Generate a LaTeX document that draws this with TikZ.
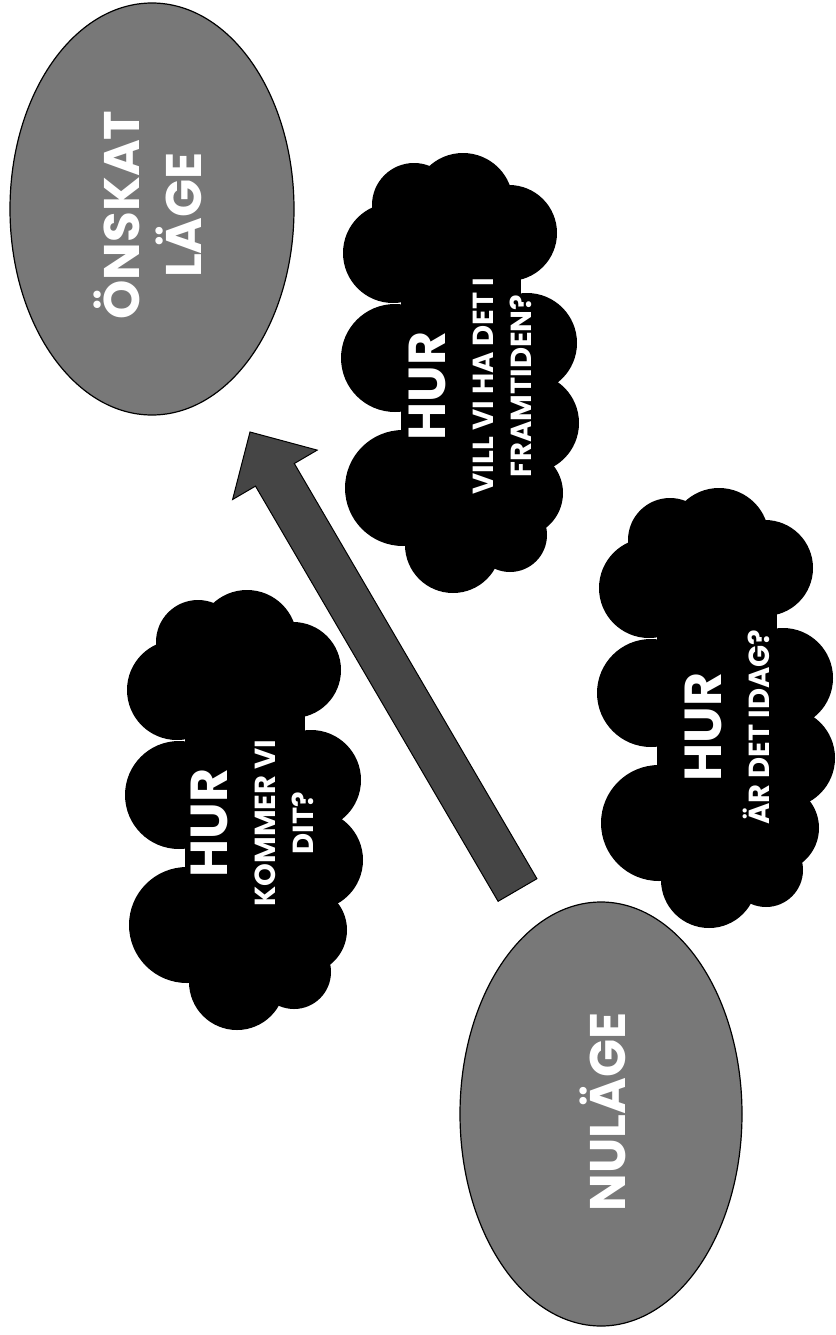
\documentclass[tikz,border=0pt]{standalone}
\usepackage{fontspec}
\setmainfont{Poppins}
\usetikzlibrary{shapes.geometric,calc}
\definecolor{blobgray}{gray}{0.47}
\definecolor{arrowgray}{gray}{0.27}
\tikzset{
  blob/.style={ellipse, draw=black, line width=1.2pt, fill=blobgray, inner sep=0pt},
  bigtxt/.style={rotate=90, text=white, align=center, inner sep=0pt,
                 font=\bfseries\fontsize{50}{62}\selectfont},
  cloudtxt/.style={rotate=90, text=white, align=center, inner sep=0pt,
                   font=\bfseries\fontsize{29}{38}\selectfont},
  arrowbody/.style={fill=arrowgray, draw=black, line width=1pt, line join=miter},
  pics/hurcloud/.style={code={
    \fill[black] (-60,-130) rectangle (60,140);
    \fill[black] (-47,-168) circle[radius=42pt];
    \fill[black] (2,-170) circle[radius=50pt];
    \fill[black] (48,-140) circle[radius=48pt];
    \fill[black] (-68,-120) circle[radius=50pt];
    \fill[black] (-66,-15) circle[radius=54pt];
    \fill[black] (66,-30) circle[radius=50pt];
    \fill[black] (68,50) circle[radius=50pt];
    \fill[black] (-58,115) circle[radius=58pt];
    \fill[black] (58,120) circle[radius=44pt];
    \fill[black] (-8,172) circle[radius=48pt];
    \fill[black] (49,162) circle[radius=37pt];
    \coordinate (-center) at (0,0);
  }}
}
\newcommand{\hurline}{{\fontsize{52}{52}\selectfont HUR}\\[10pt]}
\begin{document}
\begin{tikzpicture}[x=1pt,y=-1pt]
\useasboundingbox (0,0) rectangle (835,1335);
% ellipses
\node[blob, minimum width=284pt, minimum height=412pt] (onskat) at (152,209) {};
\node[bigtxt] (onskattxt) at (148,215) {ÖNSKAT\\LÄGE};
\node[blob, minimum width=282pt, minimum height=424pt] (nulage) at (601,1114) {};
\node[bigtxt] (nulagetxt) at (603,1112) {NULÄGE};
% clouds
\pic (c1) at (461,373) {hurcloud};
\node[cloudtxt] (t1) at ($(c1-center)+(9,13)$) {\hurline VILL VI HA DET I\\FRAMTIDEN?};
\pic (c2) at (245,810) {hurcloud};
\node[cloudtxt] (t2) at ($(c2-center)+(7,13)$) {\hurline KOMMER VI\\DIT?};
\pic (c3) at (717,708) {hurcloud};
\node[cloudtxt] (t3) at ($(c3-center)+(10,19)$) {\hurline ÄR DET IDAG?};
% block arrow
\coordinate (tip) at (250,432);
\coordinate (barbR) at (317.2,450.1);
\coordinate (neckR) at (294.3,463.5);
\coordinate (tailR) at (536.9,878.7);
\coordinate (tailL) at (498.1,901.3);
\coordinate (neckL) at (255.5,486.1);
\coordinate (barbL) at (232.6,499.5);
\draw[arrowbody] (tip) -- (barbR) -- (neckR) -- (tailR) -- (tailL) -- (neckL) -- (barbL) -- cycle;
\end{tikzpicture}
\end{document}
